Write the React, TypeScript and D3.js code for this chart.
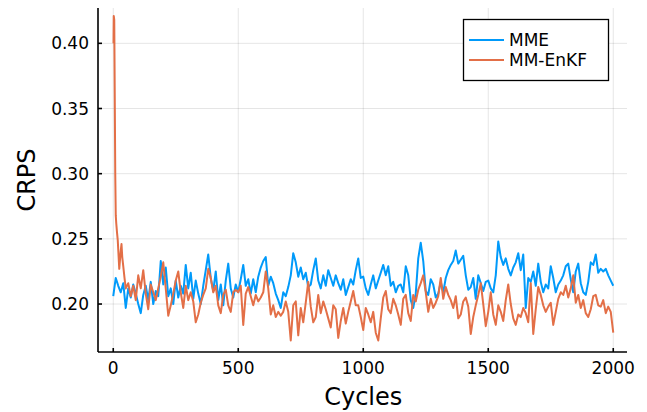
import React from "react";
import * as d3 from "d3";

// CRPS per assimilation cycle, stored every 10 cycles (0..2000)
const sampleStep = 10;

const mmeCrps = [
  0.206, 0.220, 0.214, 0.209, 0.216, 0.197, 0.212, 0.205, 0.215, 0.208,
  0.200, 0.193, 0.207, 0.214, 0.203, 0.217, 0.200, 0.210, 0.206, 0.233,
  0.215, 0.228, 0.206, 0.212, 0.200, 0.218, 0.205, 0.214, 0.208, 0.230,
  0.212, 0.224, 0.204, 0.218, 0.208, 0.200, 0.214, 0.226, 0.238, 0.220,
  0.210, 0.225, 0.203, 0.215, 0.199, 0.218, 0.231, 0.212, 0.205, 0.215,
  0.209, 0.219, 0.230, 0.214, 0.219, 0.208, 0.219, 0.209, 0.221, 0.228,
  0.233, 0.236, 0.214, 0.221, 0.216, 0.208, 0.203, 0.197, 0.209, 0.206,
  0.213, 0.222, 0.239, 0.232, 0.221, 0.228, 0.219, 0.224, 0.213, 0.215,
  0.226, 0.235, 0.218, 0.212, 0.222, 0.214, 0.226, 0.220, 0.214, 0.222,
  0.216, 0.211, 0.219, 0.207, 0.213, 0.219, 0.215, 0.226, 0.235, 0.220,
  0.221, 0.212, 0.207, 0.215, 0.222, 0.212, 0.218, 0.224, 0.230, 0.222,
  0.229, 0.214, 0.217, 0.209, 0.214, 0.215, 0.209, 0.229, 0.222, 0.203,
  0.197, 0.208, 0.235, 0.247, 0.233, 0.210, 0.207, 0.219, 0.215, 0.205,
  0.208, 0.217, 0.209, 0.220, 0.226, 0.230, 0.233, 0.241, 0.231, 0.234,
  0.237, 0.222, 0.211, 0.213, 0.220, 0.204, 0.222, 0.216, 0.210, 0.217,
  0.218, 0.212, 0.209, 0.222, 0.248, 0.236, 0.230, 0.235, 0.227, 0.222,
  0.228, 0.232, 0.239, 0.226, 0.238, 0.197, 0.220, 0.217, 0.225, 0.214,
  0.231, 0.217, 0.209, 0.215, 0.212, 0.229, 0.220, 0.209, 0.215, 0.218,
  0.222, 0.229, 0.231, 0.219, 0.209, 0.225, 0.231, 0.216, 0.209, 0.207,
  0.217, 0.232, 0.230, 0.238, 0.224, 0.227, 0.225, 0.227, 0.222, 0.218,
  0.214,
];

// MM-EnKF: spin-up transient at the start, recorded more finely
const enkfStartCycles = [1, 2, 4, 6, 8, 10, 12, 15, 18, 21, 24, 27, 30, 33, 36, 40, 45, 50];
const enkfStartCrps = [
  0.400, 0.421, 0.418, 0.360, 0.300, 0.268, 0.262, 0.255, 0.249, 0.238,
  0.227, 0.234, 0.241, 0.246, 0.236, 0.229, 0.220, 0.212,
];

// MM-EnKF after spin-up, every 10 cycles from cycle 60 to 2000
const enkfFirstSampled = 60;
const enkfCrps = [
  0.216, 0.206, 0.214, 0.203,
  0.222, 0.212, 0.226, 0.208, 0.196, 0.215, 0.209, 0.203, 0.212, 0.221,
  0.232, 0.212, 0.191, 0.199, 0.208, 0.218, 0.225, 0.209, 0.197, 0.214,
  0.203, 0.209, 0.202, 0.186, 0.192, 0.201, 0.207, 0.212, 0.227, 0.220,
  0.209, 0.214, 0.199, 0.193, 0.207, 0.211, 0.199, 0.194, 0.209, 0.211,
  0.209, 0.214, 0.184, 0.208, 0.213, 0.206, 0.199, 0.207, 0.202, 0.205,
  0.209, 0.225, 0.212, 0.192, 0.199, 0.190, 0.194, 0.191, 0.194, 0.202,
  0.194, 0.172, 0.199, 0.202, 0.176, 0.197, 0.186, 0.201, 0.217, 0.198,
  0.186, 0.190, 0.207, 0.193, 0.202, 0.196, 0.189, 0.182, 0.199, 0.196,
  0.174, 0.187, 0.197, 0.185, 0.194, 0.202, 0.210, 0.199, 0.199, 0.190,
  0.180, 0.197, 0.192, 0.186, 0.194, 0.178, 0.172, 0.189, 0.205, 0.210,
  0.196, 0.193, 0.204, 0.199, 0.192, 0.184, 0.204, 0.207, 0.193, 0.187,
  0.207, 0.202, 0.211, 0.216, 0.222, 0.209, 0.194, 0.204, 0.197, 0.201,
  0.206, 0.220, 0.204, 0.213, 0.207, 0.203, 0.197, 0.206, 0.189, 0.192,
  0.202, 0.205, 0.198, 0.177, 0.190, 0.199, 0.207, 0.216, 0.200, 0.183,
  0.194, 0.209, 0.192, 0.184, 0.199, 0.194, 0.187, 0.203, 0.215, 0.200,
  0.189, 0.184, 0.192, 0.190, 0.197, 0.193, 0.186, 0.216, 0.177, 0.196,
  0.213, 0.207, 0.199, 0.194, 0.198, 0.201, 0.184, 0.194, 0.204, 0.209,
  0.207, 0.214, 0.205, 0.212, 0.222, 0.201, 0.207, 0.197, 0.203, 0.193,
  0.190, 0.196, 0.206, 0.207, 0.199, 0.198, 0.203, 0.193, 0.198, 0.194,
  0.178,
];

const xTicks = [0, 500, 1000, 1500, 2000];
const yTicks = [0.2, 0.25, 0.3, 0.35, 0.4];
const seriesNames = ["MME", "MM-EnKF"];
const seriesColors = ["#009AFA", "#E36F47"];

type Pt = { c: number; v: number };

const W = 647;
const H = 412;
const plot = { left: 98, right: 627, top: 8, bottom: 352 };
const FONT = "'DejaVu Sans', sans-serif";

export default function App() {
  const x = d3.scaleLinear().domain([-61, 2055]).range([plot.left, plot.right]);
  const y = d3.scaleLinear().domain([0.1632, 0.4271]).range([plot.bottom, plot.top]);

  const mme: Pt[] = mmeCrps.map((v, i) => ({ c: i * sampleStep, v }));
  const enkf: Pt[] = [
    ...enkfStartCycles.map((c, i) => ({ c, v: enkfStartCrps[i] })),
    ...enkfCrps.map((v, i) => ({ c: enkfFirstSampled + i * sampleStep, v })),
  ];

  const line = d3
    .line<Pt>()
    .x((d) => x(d.c))
    .y((d) => y(d.v));

  const series = [mme, enkf];

  return (
    <svg
      width={W}
      height={H}
      style={{ position: "absolute", left: 0, top: 0, background: "#fff" }}
      fontFamily={FONT}
    >
      {/* grid */}
      <g stroke="#000" strokeOpacity={0.1} strokeWidth={1}>
        {xTicks.map((t) => (
          <line key={"gx" + t} x1={x(t)} x2={x(t)} y1={plot.top} y2={plot.bottom} />
        ))}
        {yTicks.map((t) => (
          <line key={"gy" + t} x1={plot.left} x2={plot.right} y1={y(t)} y2={y(t)} />
        ))}
      </g>

      {/* series */}
      {series.map((s, i) => (
        <path
          key={seriesNames[i]}
          d={line(s) ?? ""}
          fill="none"
          stroke={seriesColors[i]}
          strokeWidth={2}
          strokeLinejoin="round"
        />
      ))}

      {/* axes */}
      <g stroke="#000" strokeWidth={1.6}>
        <line x1={plot.left} x2={plot.left} y1={plot.top} y2={plot.bottom} />
        <line x1={plot.left} x2={plot.right} y1={plot.bottom} y2={plot.bottom} />
        {xTicks.map((t) => (
          <line key={"tx" + t} x1={x(t)} x2={x(t)} y1={plot.bottom} y2={plot.bottom - 4} />
        ))}
        {yTicks.map((t) => (
          <line key={"ty" + t} x1={plot.left} x2={plot.left + 4} y1={y(t)} y2={y(t)} />
        ))}
      </g>

      {/* tick labels */}
      <g fontSize={17} fill="#000">
        {xTicks.map((t) => (
          <text key={"lx" + t} x={x(t)} y={plot.bottom + 22} textAnchor="middle">
            {d3.format("d")(t)}
          </text>
        ))}
        {yTicks.map((t) => (
          <text key={"ly" + t} x={plot.left - 9} y={y(t)} textAnchor="end" dominantBaseline="central">
            {d3.format(".2f")(t)}
          </text>
        ))}
      </g>

      {/* axis titles */}
      <text
        x={(x(0) + x(2000)) / 2}
        y={405}
        textAnchor="middle"
        fontSize={24}
        fill="#000"
      >
        Cycles
      </text>
      <text
        transform={`translate(35, ${(plot.top + plot.bottom) / 2}) rotate(-90)`}
        textAnchor="middle"
        fontSize={24}
        fill="#000"
      >
        CRPS
      </text>

      {/* legend */}
      <g>
        <rect x={463.5} y={19.5} width={145} height={61} fill="#fff" stroke="#000" strokeWidth={1.3} />
        {seriesNames.map((n, i) => (
          <g key={"lg" + n}>
            <line
              x1={469}
              x2={504}
              y1={40 + i * 20}
              y2={40 + i * 20}
              stroke={seriesColors[i]}
              strokeWidth={2}
            />
            <text x={509} y={40 + i * 20} dominantBaseline="central" fontSize={17} fill="#000">
              {n}
            </text>
          </g>
        ))}
      </g>
    </svg>
  );
}
